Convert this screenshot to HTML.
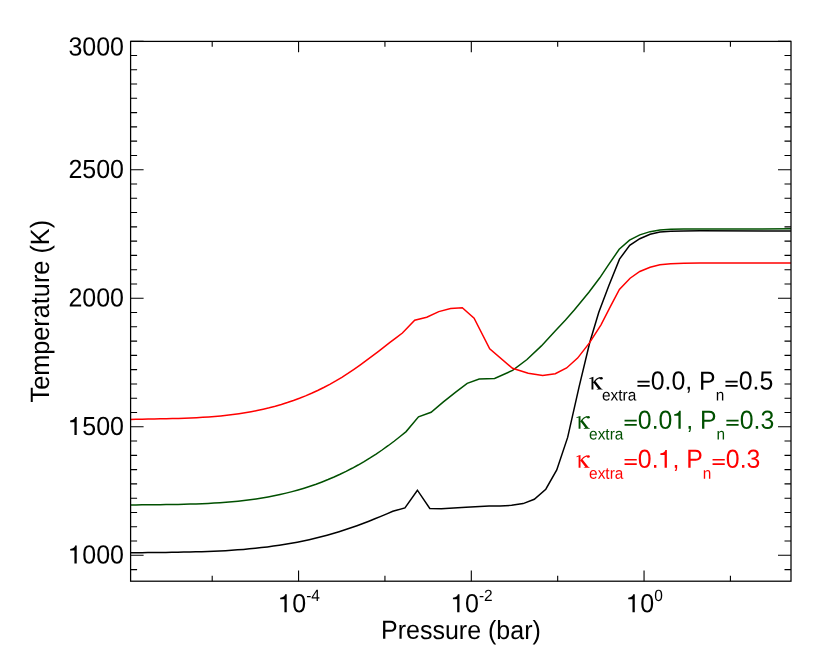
<!DOCTYPE html>
<html><head><meta charset="utf-8"><title>T-P profile</title>
<style>html,body{margin:0;padding:0;background:#fff;}svg{display:block;will-change:transform;}text{font-family:"Liberation Sans",sans-serif;text-rendering:geometricPrecision;}</style>
</head><body>
<svg width="830" height="664" viewBox="0 0 830 664">
<rect x="0" y="0" width="830" height="664" fill="#ffffff"/>
<g fill="none" stroke-width="1.50" stroke-linejoin="miter" stroke-miterlimit="10" stroke-linecap="butt">
<polyline stroke="#000000" points="130.00,552.81 135.97,552.73 141.95,552.65 147.92,552.58 153.89,552.52 159.86,552.45 165.84,552.38 171.81,552.31 177.78,552.22 183.75,552.11 189.73,551.99 195.70,551.84 201.67,551.67 207.65,551.47 213.62,551.23 219.59,550.95 225.56,550.63 231.54,550.27 237.51,549.85 243.48,549.38 249.45,548.86 255.43,548.27 261.40,547.62 267.37,546.90 273.35,546.11 279.32,545.25 285.29,544.30 291.26,543.27 297.24,542.15 303.21,540.95 309.18,539.65 315.15,538.26 321.13,536.78 327.10,535.19 333.07,533.51 339.05,531.72 345.02,529.82 350.99,527.82 356.96,525.71 362.94,523.50 368.91,521.20 374.88,518.82 380.85,516.37 386.83,513.85 392.80,511.30 404.95,507.90 417.40,490.20 429.80,508.40 441.40,508.65 466.00,507.20 489.10,505.95 500.00,505.90 511.60,505.30 523.10,503.60 534.30,499.30 545.80,489.20 556.75,469.95 567.65,437.40 579.20,386.40 589.80,342.30 598.80,312.20 608.80,285.70 619.50,259.10 629.70,245.40 639.80,238.70 650.10,234.30 659.90,232.10 670.70,231.20 683.75,230.90 700.00,230.85 791.00,230.95"/>
<polyline stroke="#005000" points="130.00,505.00 136.00,504.91 142.00,504.82 148.01,504.76 154.01,504.69 160.01,504.63 166.01,504.56 172.02,504.48 178.02,504.39 184.02,504.27 190.02,504.12 196.02,503.94 202.03,503.71 208.03,503.44 214.03,503.12 220.03,502.75 226.03,502.30 232.04,501.79 238.04,501.21 244.04,500.54 250.04,499.79 256.05,498.95 262.05,498.00 268.05,496.96 274.05,495.80 280.05,494.53 286.06,493.14 292.06,491.62 298.06,489.97 304.06,488.18 310.07,486.25 316.07,484.18 322.07,481.94 328.07,479.55 334.07,477.00 340.08,474.27 346.08,471.37 352.08,468.29 358.08,465.03 364.08,461.57 370.09,457.92 376.09,454.06 382.09,450.00 388.09,445.73 394.10,441.24 400.10,436.52 406.10,431.60 418.50,416.80 431.10,412.30 443.40,401.90 455.70,392.10 467.20,383.40 479.20,379.10 494.60,378.40 512.60,370.40 527.00,359.50 541.40,345.90 554.70,331.40 565.50,320.00 574.50,309.80 588.90,292.30 599.80,277.80 607.95,265.60 619.20,249.30 629.55,240.20 639.80,234.90 650.10,231.65 659.90,230.00 670.70,229.30 683.75,229.05 700.00,229.00 745.00,229.10 791.00,228.85"/>
<polyline stroke="#ff0000" points="130.00,419.51 136.05,419.36 142.11,419.22 148.16,419.10 154.21,418.98 160.27,418.86 166.32,418.73 172.37,418.58 178.43,418.41 184.48,418.21 190.53,417.97 196.59,417.68 202.64,417.33 208.69,416.93 214.75,416.45 220.80,415.90 226.85,415.26 232.91,414.53 238.96,413.70 245.01,412.76 251.07,411.71 257.12,410.54 263.17,409.24 269.23,407.80 275.28,406.21 281.33,404.47 287.39,402.58 293.44,400.52 299.49,398.28 305.55,395.87 311.60,393.27 317.65,390.48 323.71,387.49 329.76,384.30 335.81,380.90 341.87,377.28 347.92,373.44 353.97,369.37 360.03,365.12 366.08,360.70 372.13,356.17 378.19,351.55 384.24,346.89 390.29,342.21 396.35,337.57 402.40,333.00 414.70,320.30 426.75,317.30 438.80,311.60 450.60,308.50 462.30,307.70 474.10,318.10 489.70,348.85 512.50,368.30 528.20,373.30 542.65,375.40 555.30,373.65 566.60,367.95 577.60,358.10 589.45,342.90 601.00,324.80 610.60,306.10 619.40,289.50 630.10,278.25 639.80,271.50 650.10,267.20 659.90,264.85 670.70,263.75 683.75,263.25 700.00,263.10 791.00,262.90"/>
</g>
<g stroke="#000" stroke-width="1.25" fill="none" stroke-linecap="square">
<rect x="130.60" y="41.40" width="660.40" height="539.80"/>
</g>
<g stroke="#000" stroke-width="1.10" fill="none">
<path d="M130.60 555.30h13.00M791.00 555.30h-13.00"/>
<path d="M130.60 541.02h6.50M791.00 541.02h-6.50"/>
<path d="M130.60 526.74h6.50M791.00 526.74h-6.50"/>
<path d="M130.60 512.46h6.50M791.00 512.46h-6.50"/>
<path d="M130.60 498.18h6.50M791.00 498.18h-6.50"/>
<path d="M130.60 483.90h6.50M791.00 483.90h-6.50"/>
<path d="M130.60 469.62h6.50M791.00 469.62h-6.50"/>
<path d="M130.60 455.34h6.50M791.00 455.34h-6.50"/>
<path d="M130.60 441.06h6.50M791.00 441.06h-6.50"/>
<path d="M130.60 426.77h13.00M791.00 426.77h-13.00"/>
<path d="M130.60 412.49h6.50M791.00 412.49h-6.50"/>
<path d="M130.60 398.21h6.50M791.00 398.21h-6.50"/>
<path d="M130.60 383.93h6.50M791.00 383.93h-6.50"/>
<path d="M130.60 369.65h6.50M791.00 369.65h-6.50"/>
<path d="M130.60 355.37h6.50M791.00 355.37h-6.50"/>
<path d="M130.60 341.09h6.50M791.00 341.09h-6.50"/>
<path d="M130.60 326.81h6.50M791.00 326.81h-6.50"/>
<path d="M130.60 312.53h6.50M791.00 312.53h-6.50"/>
<path d="M130.60 298.25h13.00M791.00 298.25h-13.00"/>
<path d="M130.60 283.97h6.50M791.00 283.97h-6.50"/>
<path d="M130.60 269.69h6.50M791.00 269.69h-6.50"/>
<path d="M130.60 255.41h6.50M791.00 255.41h-6.50"/>
<path d="M130.60 241.13h6.50M791.00 241.13h-6.50"/>
<path d="M130.60 226.85h6.50M791.00 226.85h-6.50"/>
<path d="M130.60 212.57h6.50M791.00 212.57h-6.50"/>
<path d="M130.60 198.29h6.50M791.00 198.29h-6.50"/>
<path d="M130.60 184.01h6.50M791.00 184.01h-6.50"/>
<path d="M130.60 169.73h13.00M791.00 169.73h-13.00"/>
<path d="M130.60 155.44h6.50M791.00 155.44h-6.50"/>
<path d="M130.60 141.16h6.50M791.00 141.16h-6.50"/>
<path d="M130.60 126.88h6.50M791.00 126.88h-6.50"/>
<path d="M130.60 112.60h6.50M791.00 112.60h-6.50"/>
<path d="M130.60 98.32h6.50M791.00 98.32h-6.50"/>
<path d="M130.60 84.04h6.50M791.00 84.04h-6.50"/>
<path d="M130.60 69.76h6.50M791.00 69.76h-6.50"/>
<path d="M130.60 55.48h6.50M791.00 55.48h-6.50"/>
<path d="M130.60 41.20h13.00M791.00 41.20h-13.00"/>
<path d="M130.60 569.58h6.50M791.00 569.58h-6.50"/>
<path d="M298.57 581.20v-10.80M298.57 41.40v10.80"/>
<path d="M471.31 581.20v-10.80M471.31 41.40v10.80"/>
<path d="M644.05 581.20v-10.80M644.05 41.40v10.80"/>
<path d="M212.20 581.20v-5.40M212.20 41.40v5.40"/>
<path d="M384.94 581.20v-5.40M384.94 41.40v5.40"/>
<path d="M557.68 581.20v-5.40M557.68 41.40v5.40"/>
<path d="M730.42 581.20v-5.40M730.42 41.40v5.40"/>
</g>
<path transform="translate(68.38 563.50) scale(1.0000)" d="M8.35,0 L8.35,-17.95 L6.8,-17.95 C6.45,-16.2 5.0,-14.65 1.8,-14.55 L1.8,-12.9 L6.05,-12.9 L6.05,0 Z" fill="#000"/>
<text transform="translate(82.29 563.50) rotate(0.03) scale(1 1.050)" font-size="25.00" fill="#000">000</text>
<path transform="translate(68.38 435.07) scale(1.0000)" d="M8.35,0 L8.35,-17.95 L6.8,-17.95 C6.45,-16.2 5.0,-14.65 1.8,-14.55 L1.8,-12.9 L6.05,-12.9 L6.05,0 Z" fill="#000"/>
<text transform="translate(82.29 435.07) rotate(0.03) scale(1 1.050)" font-size="25.00" fill="#000">500</text>
<text transform="translate(68.38 306.55) rotate(0.03) scale(1 1.050)" font-size="25.00" fill="#000">2000</text>
<text transform="translate(68.38 178.03) rotate(0.03) scale(1 1.050)" font-size="25.00" fill="#000">2500</text>
<text transform="translate(68.38 55.55) rotate(0.03) scale(1 1.050)" font-size="25.00" fill="#000">3000</text>
<path transform="translate(278.38 612.20) scale(1.0000)" d="M8.35,0 L8.35,-17.95 L6.8,-17.95 C6.45,-16.2 5.0,-14.65 1.8,-14.55 L1.8,-12.9 L6.05,-12.9 L6.05,0 Z" fill="#000"/>
<text transform="translate(292.28 612.20) rotate(0.03) scale(1 1.050)" font-size="25.00" fill="#000">0</text>
<text transform="translate(306.18 600.95) rotate(0.03) scale(1 1.050)" font-size="15.50" fill="#000">-4</text>
<path transform="translate(451.12 612.20) scale(1.0000)" d="M8.35,0 L8.35,-17.95 L6.8,-17.95 C6.45,-16.2 5.0,-14.65 1.8,-14.55 L1.8,-12.9 L6.05,-12.9 L6.05,0 Z" fill="#000"/>
<text transform="translate(465.02 612.20) rotate(0.03) scale(1 1.050)" font-size="25.00" fill="#000">0</text>
<text transform="translate(478.92 600.95) rotate(0.03) scale(1 1.050)" font-size="15.50" fill="#000">-2</text>
<path transform="translate(626.44 612.20) scale(1.0000)" d="M8.35,0 L8.35,-17.95 L6.8,-17.95 C6.45,-16.2 5.0,-14.65 1.8,-14.55 L1.8,-12.9 L6.05,-12.9 L6.05,0 Z" fill="#000"/>
<text transform="translate(640.34 612.20) rotate(0.03) scale(1 1.050)" font-size="25.00" fill="#000">0</text>
<text transform="translate(654.24 600.95) rotate(0.03) scale(1 1.050)" font-size="15.50" fill="#000">0</text>
<text transform="translate(460.90 638.90) rotate(0.03) scale(1 1.050)" font-size="25.00" fill="#000" text-anchor="middle">Pressure (bar)</text>
<text transform="translate(48.85 311.20) rotate(-90) scale(1 1.050)" font-size="25.27" fill="#000" text-anchor="middle">Temperature (K)</text>
<g transform="translate(588.00 389.60)" fill="#000000" stroke="none">
<path d="M1.4,-11.35 L3.4,-12.2 L5.4,-12.75 L5.4,0 L3.5,0 L3.5,-11.2 L1.4,-10.6 Z"/>
<path d="M5.3,-7.4 L7.3,-8.6 L13.2,-1.0 L14.7,-0.4 L14.7,0 L8.6,0 L8.6,-0.4 L10.2,-0.9 Z"/>
<path d="M5.5,-6.6 Q8.4,-11.3 12.0,-12.0" fill="none" stroke="#000000" stroke-width="1.25"/>
<ellipse cx="13.2" cy="-11.35" rx="1.55" ry="1.3"/>
</g>
<text transform="translate(602.00 400.50) rotate(0.03) scale(1 1.050)" font-size="15.41" fill="#000000">extra</text>
<path d="M637.45 381.55h12.2M637.45 385.90h12.2" stroke="#000000" stroke-width="1.7" fill="none"/>
<text transform="translate(650.76 389.60) rotate(0.03) scale(1 1.050)" font-size="24.85" fill="#000000">0.0, P</text>
<text transform="translate(715.69 400.50) rotate(0.03) scale(1 1.050)" font-size="15.41" fill="#000000">n</text>
<path d="M725.46 381.55h12.2M725.46 385.90h12.2" stroke="#000000" stroke-width="1.7" fill="none"/>
<text transform="translate(738.77 389.60) rotate(0.03) scale(1 1.050)" font-size="24.85" fill="#000000">0.5</text>
<g transform="translate(575.10 428.65)" fill="#005000" stroke="none">
<path d="M1.4,-11.35 L3.4,-12.2 L5.4,-12.75 L5.4,0 L3.5,0 L3.5,-11.2 L1.4,-10.6 Z"/>
<path d="M5.3,-7.4 L7.3,-8.6 L13.2,-1.0 L14.7,-0.4 L14.7,0 L8.6,0 L8.6,-0.4 L10.2,-0.9 Z"/>
<path d="M5.5,-6.6 Q8.4,-11.3 12.0,-12.0" fill="none" stroke="#005000" stroke-width="1.25"/>
<ellipse cx="13.2" cy="-11.35" rx="1.55" ry="1.3"/>
</g>
<text transform="translate(589.10 439.55) rotate(0.03) scale(1 1.050)" font-size="15.41" fill="#005000">extra</text>
<path d="M624.55 420.60h12.2M624.55 424.95h12.2" stroke="#005000" stroke-width="1.7" fill="none"/>
<text transform="translate(637.86 428.65) rotate(0.03) scale(1 1.050)" font-size="24.85" fill="#005000">0.0</text>
<path transform="translate(672.41 428.65) scale(0.9940)" d="M8.35,0 L8.35,-17.95 L6.8,-17.95 C6.45,-16.2 5.0,-14.65 1.8,-14.55 L1.8,-12.9 L6.05,-12.9 L6.05,0 Z" fill="#005000"/>
<text transform="translate(686.23 428.65) rotate(0.03) scale(1 1.050)" font-size="24.85" fill="#005000">, P</text>
<text transform="translate(716.61 439.55) rotate(0.03) scale(1 1.050)" font-size="15.41" fill="#005000">n</text>
<path d="M726.38 420.60h12.2M726.38 424.95h12.2" stroke="#005000" stroke-width="1.7" fill="none"/>
<text transform="translate(739.69 428.65) rotate(0.03) scale(1 1.050)" font-size="24.85" fill="#005000">0.3</text>
<g transform="translate(575.10 467.80)" fill="#ff0000" stroke="none">
<path d="M1.4,-11.35 L3.4,-12.2 L5.4,-12.75 L5.4,0 L3.5,0 L3.5,-11.2 L1.4,-10.6 Z"/>
<path d="M5.3,-7.4 L7.3,-8.6 L13.2,-1.0 L14.7,-0.4 L14.7,0 L8.6,0 L8.6,-0.4 L10.2,-0.9 Z"/>
<path d="M5.5,-6.6 Q8.4,-11.3 12.0,-12.0" fill="none" stroke="#ff0000" stroke-width="1.25"/>
<ellipse cx="13.2" cy="-11.35" rx="1.55" ry="1.3"/>
</g>
<text transform="translate(589.10 478.70) rotate(0.03) scale(1 1.050)" font-size="15.41" fill="#ff0000">extra</text>
<path d="M624.55 459.75h12.2M624.55 464.10h12.2" stroke="#ff0000" stroke-width="1.7" fill="none"/>
<text transform="translate(637.86 467.80) rotate(0.03) scale(1 1.050)" font-size="24.85" fill="#ff0000">0.</text>
<path transform="translate(658.59 467.80) scale(0.9940)" d="M8.35,0 L8.35,-17.95 L6.8,-17.95 C6.45,-16.2 5.0,-14.65 1.8,-14.55 L1.8,-12.9 L6.05,-12.9 L6.05,0 Z" fill="#ff0000"/>
<text transform="translate(672.41 467.80) rotate(0.03) scale(1 1.050)" font-size="24.85" fill="#ff0000">, P</text>
<text transform="translate(702.79 478.70) rotate(0.03) scale(1 1.050)" font-size="15.41" fill="#ff0000">n</text>
<path d="M712.56 459.75h12.2M712.56 464.10h12.2" stroke="#ff0000" stroke-width="1.7" fill="none"/>
<text transform="translate(725.87 467.80) rotate(0.03) scale(1 1.050)" font-size="24.85" fill="#ff0000">0.3</text>
</svg>
</body></html>
